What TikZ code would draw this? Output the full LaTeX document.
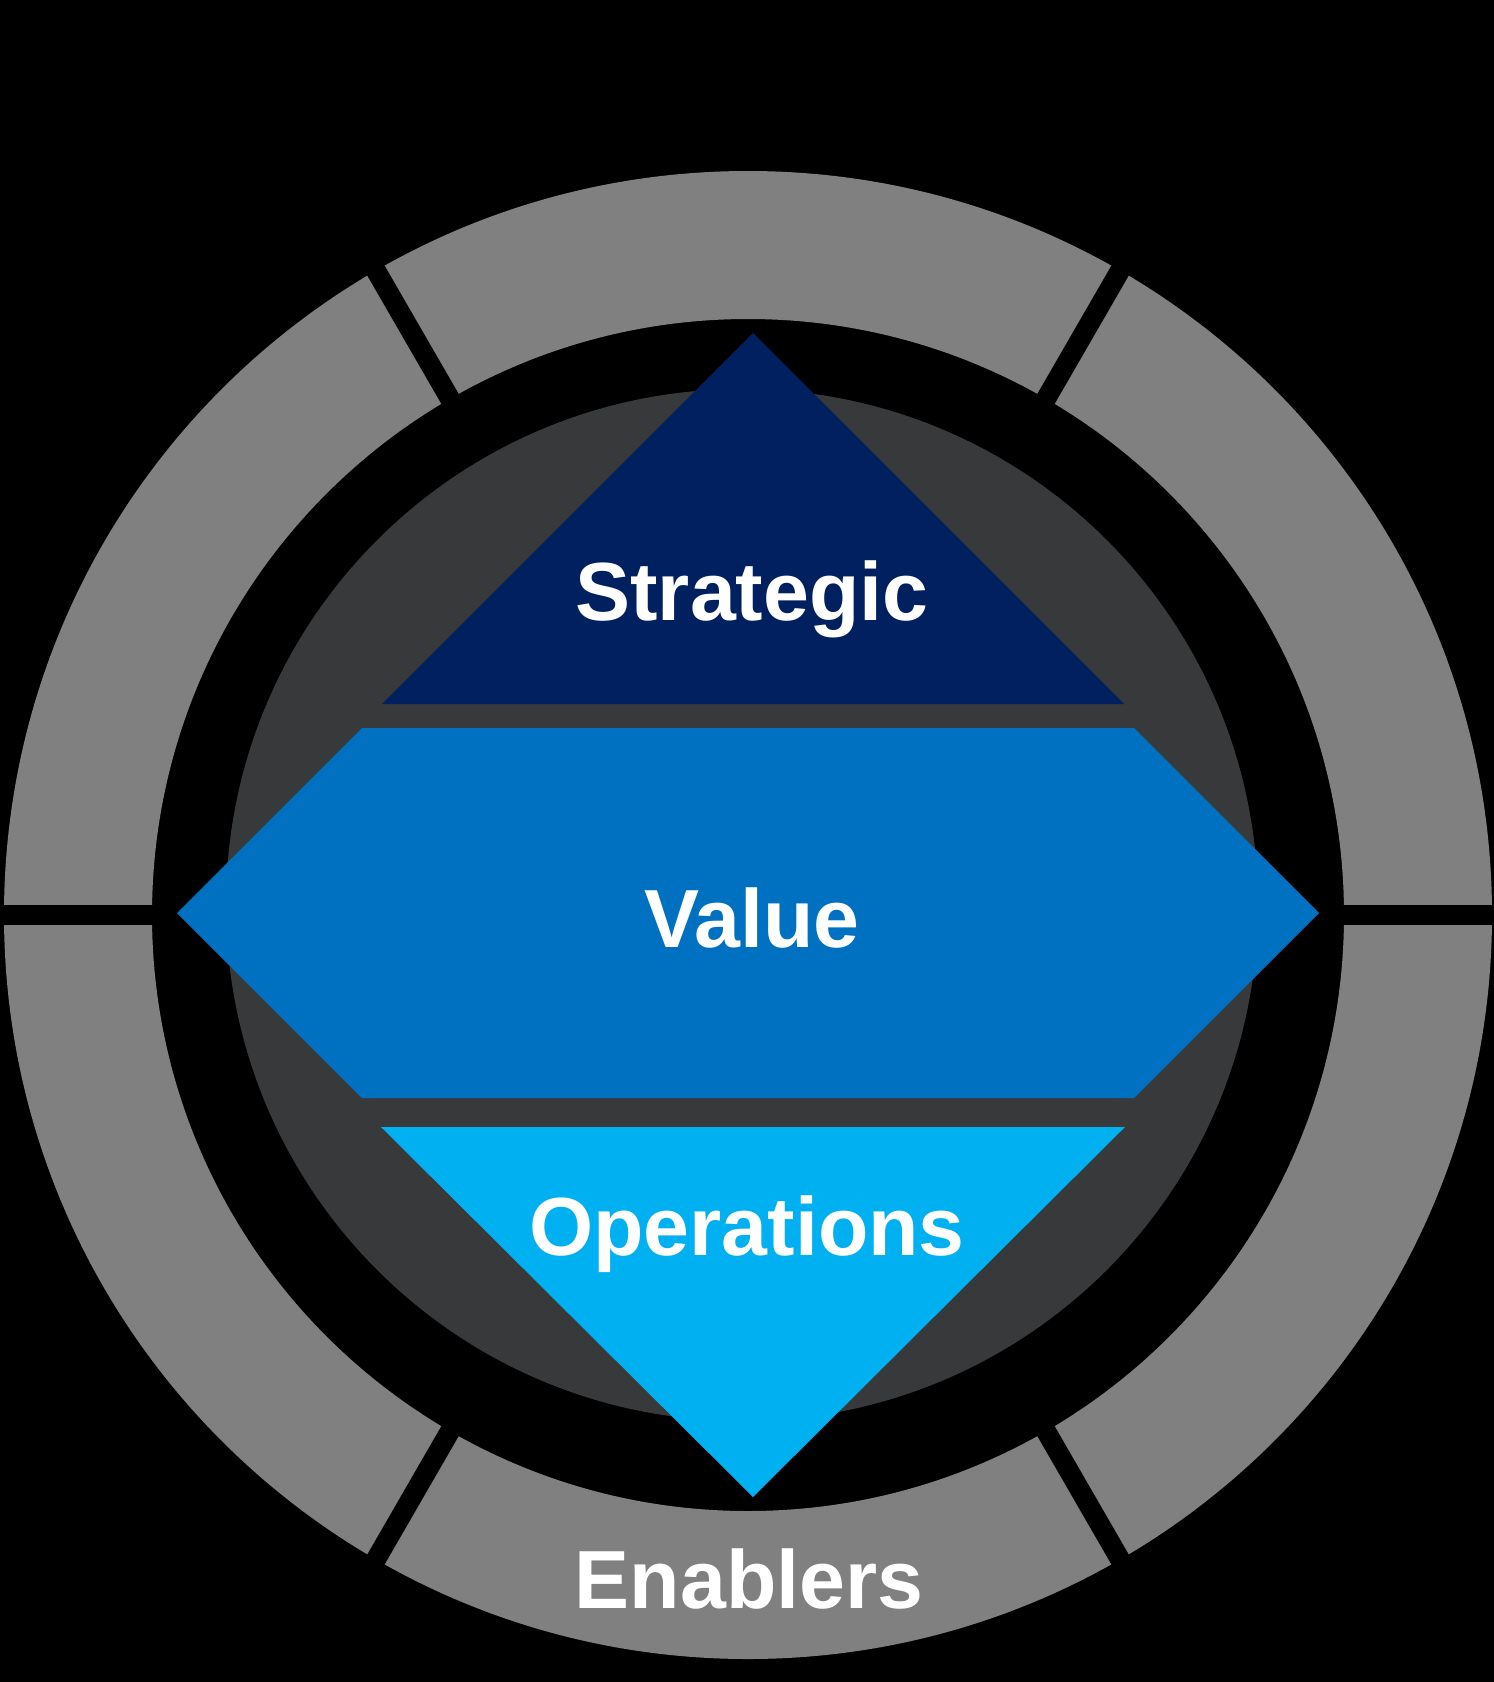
\documentclass[tikz,border=0pt]{standalone}
\usepackage{fontspec}
\setmainfont{Liberation Sans}
\usetikzlibrary{calc}
\definecolor{ringgray}{RGB}{128,128,128}
\definecolor{darkcirc}{RGB}{56,57,59}
\definecolor{navyblue}{RGB}{0,32,96}
\definecolor{midblue}{RGB}{0,112,192}
\definecolor{lightblue}{RGB}{0,176,240}
\tikzset{
  lbl/.style={text=white, font=\fontsize{82.5}{98}\selectfont\bfseries, inner sep=0pt, anchor=base},
  gapline/.style={draw=black, line width=20pt}
}
\begin{document}
\begin{tikzpicture}[x=1pt,y=-1pt]
\useasboundingbox[fill=black] (0,0) rectangle (1494,1682);
\coordinate (C) at (748,915);
\coordinate (D) at (742,905);
% outer ring
\fill[ringgray, even odd rule] (C) circle[radius=744pt] (C) circle[radius=596pt];
\foreach \a in {0,60,...,300}{
  \draw[gapline] ($(C)+(\a:580pt)$) -- ($(C)+(\a:760pt)$);
}
% inner dark disc
\fill[darkcirc] (D) circle[radius=516pt];
% layers
\fill[navyblue] (753,333) -- (1124,704) -- (382,704) -- cycle;
\fill[midblue] (362,728) -- (1134,728) -- (1319,913) -- (1134,1098) -- (362,1098) -- (177,913) -- cycle;
\fill[lightblue] (381,1127) -- (1125,1127) -- (753,1497) -- cycle;
% labels
\node[lbl] (strategic) at (752,620) {Strategic};
\node[lbl] (value) at (752,947) {Value};
\node[lbl] (operations) at (747,1255) {Operations};
\node[lbl] (enablers) at (749,1608) {Enablers};
\end{tikzpicture}
\end{document}
